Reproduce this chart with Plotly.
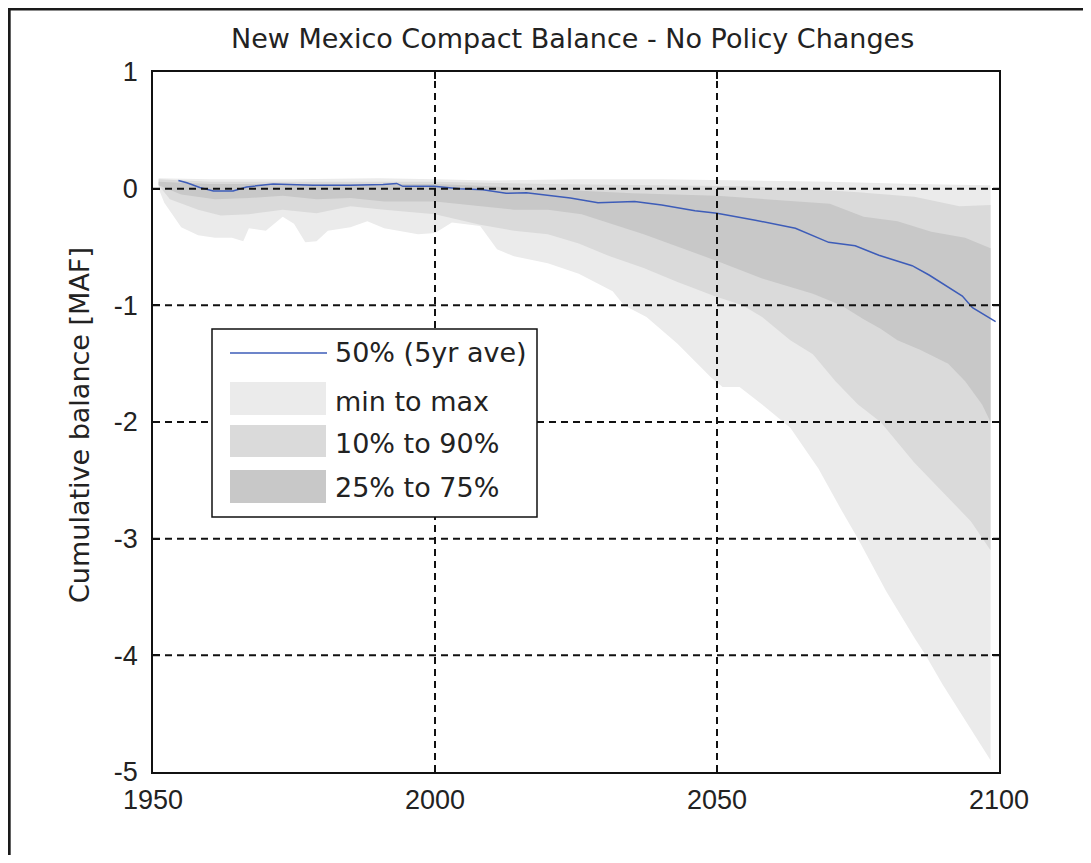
import plotly.graph_objects as go

# band edges (MAF), each edge with its own years
MAX_YEARS = [1951, 1960, 1975, 1990, 2000, 2010, 2025, 2040, 2055, 2070, 2085, 2098.5]
MAX_VALS = [0.09, 0.08, 0.08, 0.09, 0.08, 0.07, 0.08, 0.08, 0.07, 0.06, 0.04, 0.03]

P90_YEARS = [1951, 1960, 1980, 2000, 2020, 2040, 2055, 2065, 2075, 2085, 2093, 2098.5]
P90_VALS = [0.08, 0.06, 0.06, 0.06, 0.04, 0.03, 0.02, 0.0, -0.03, -0.07, -0.15, -0.14]

P75_YEARS = [1951, 1960, 1980, 2000, 2010, 2022, 2035, 2050, 2064, 2070, 2076, 2082, 2088, 2094, 2098.5]
P75_VALS = [0.06, 0.04, 0.04, 0.04, 0.02, -0.01, -0.04, -0.06, -0.11, -0.13, -0.24, -0.28, -0.37, -0.42, -0.51]

P25_YEARS = [1951, 1955, 1961, 1967, 1973, 1979, 1985, 1991, 2000, 2008, 2014, 2020, 2026, 2037,
             2050, 2058, 2067, 2072, 2076, 2079, 2082, 2086, 2091, 2094, 2097, 2098.5]
P25_VALS = [0.03, -0.05, -0.09, -0.08, -0.06, -0.09, -0.08, -0.11, -0.11, -0.15, -0.18, -0.18, -0.22, -0.39,
            -0.62, -0.77, -0.9, -1.0, -1.12, -1.2, -1.3, -1.38, -1.5, -1.65, -1.85, -2.0]

P10_YEARS = [1951, 1953, 1958, 1962, 1967, 1973, 1979, 1985, 1991, 2000, 2008, 2014, 2020, 2025.5,
             2031, 2037, 2043, 2049.5, 2054.5, 2058, 2063, 2067, 2071, 2075, 2079, 2085, 2090, 2095, 2098.5]
P10_VALS = [0.03, -0.09, -0.18, -0.23, -0.22, -0.18, -0.21, -0.15, -0.18, -0.22, -0.31, -0.36, -0.39, -0.47,
            -0.58, -0.68, -0.8, -0.92, -1.0, -1.1, -1.3, -1.42, -1.65, -1.85, -2.0, -2.35, -2.6, -2.85, -3.1]

MIN_YEARS = [1951, 1952, 1955, 1958, 1961, 1964, 1966, 1967, 1970, 1973, 1975, 1977, 1979, 1981, 1985,
             1988, 1991, 1997, 2000, 2003, 2008, 2011, 2014, 2020, 2025.5, 2031.5, 2033.5, 2037.5, 2043,
             2049, 2051, 2054, 2058, 2063, 2068, 2072, 2075, 2080, 2085, 2087, 2090, 2094, 2098.5]
MIN_VALS = [0.0, -0.12, -0.33, -0.4, -0.42, -0.42, -0.45, -0.34, -0.36, -0.24, -0.3, -0.46, -0.45, -0.36, -0.33,
            -0.28, -0.34, -0.39, -0.38, -0.29, -0.32, -0.52, -0.58, -0.64, -0.73, -0.88, -1.0, -1.1, -1.33,
            -1.62, -1.7, -1.7, -1.85, -2.05, -2.4, -2.75, -3.0, -3.45, -3.85, -4.0, -4.25, -4.55, -4.9]

MED_YEARS = [1954.5, 1956, 1958.3, 1960.7, 1964.2, 1966.6, 1971.3, 1978.4, 1985, 1990.8, 1993.2, 1994.3,
             1999.8, 2004.4, 2008.5, 2012.6, 2016.2, 2020.3, 2024, 2028.9, 2035.4, 2040.2, 2046.1, 2050,
             2056.8, 2063.9, 2069.8, 2074.5, 2078.7, 2084.6, 2087.6, 2093.5, 2095.3, 2099.4]
MED_VALS = [0.07, 0.05, 0.01, -0.02, -0.02, 0.015, 0.04, 0.03, 0.03, 0.035, 0.045, 0.02,
            0.02, 0.0, -0.01, -0.04, -0.035, -0.06, -0.08, -0.12, -0.11, -0.14, -0.19, -0.21,
            -0.27, -0.34, -0.46, -0.49, -0.57, -0.66, -0.74, -0.92, -1.02, -1.14]

X_TICKS = [1950, 2000, 2050, 2100]
Y_TICKS = [1, 0, -1, -2, -3, -4, -5]
Y_TICK_TEXT = ["1", "0", "-1", "-2", "-3", "-4", "-5"]

LEGEND_LABELS = ["50% (5yr ave)", "min to max", "10% to 90%", "25% to 75%"]
C_LIGHT, C_MID, C_DARK, C_LINE = "#ebebeb", "#dadada", "#c8c8c8", "#3d5cb8"
TICK_FONT = "Liberation Sans, Arial, sans-serif"
TEXT_FONT = "DejaVu Sans, Verdana, sans-serif"


def band(xu, yu, xl, yl, color):
    return go.Scatter(x=list(xu) + list(xl)[::-1], y=list(yu) + list(yl)[::-1],
                      fill="toself", fillcolor=color, mode="lines",
                      line=dict(width=0, color=color), hoverinfo="skip", showlegend=False)


fig = go.Figure()
fig.add_trace(band(MAX_YEARS, MAX_VALS, MIN_YEARS, MIN_VALS, C_LIGHT))
fig.add_trace(band(P90_YEARS, P90_VALS, P10_YEARS, P10_VALS, C_MID))
fig.add_trace(band(P75_YEARS, P75_VALS, P25_YEARS, P25_VALS, C_DARK))
fig.add_trace(go.Scatter(x=MED_YEARS, y=MED_VALS, mode="lines",
                         line=dict(color=C_LINE, width=1.5), showlegend=False))

shapes = []
# dashed grid drawn above the bands, like the matlab original
for gx in X_TICKS[1:-1]:
    shapes.append(dict(type="line", xref="x", yref="paper", x0=gx, x1=gx, y0=0, y1=1,
                       line=dict(color="#111", width=2, dash="7px,5px"), layer="above"))
for gy in Y_TICKS[1:-1]:
    shapes.append(dict(type="line", xref="paper", yref="y", x0=0, x1=1, y0=gy, y1=gy,
                       line=dict(color="#111", width=2, dash="7px,5px"), layer="above"))

# figure frame (left/top edges visible)
shapes.append(dict(type="rect", xref="paper", yref="paper", x0=-0.170, x1=1.2, y0=-0.2, y1=1.090,
                   line=dict(color="#1a1a1a", width=3), fillcolor="rgba(0,0,0,0)", layer="above"))


# hand-built legend box, matlab style
def px(sx):
    return (sx - 153) / 846


def py(sy):
    return (772 - sy) / 700


shapes.append(dict(type="rect", xref="paper", yref="paper", x0=px(212), x1=px(537), y0=py(517), y1=py(329),
                   line=dict(color="#111", width=1.5), fillcolor="white", layer="above"))
shapes.append(dict(type="line", xref="paper", yref="paper", x0=px(230), x1=px(327), y0=py(353), y1=py(353),
                   line=dict(color=C_LINE, width=1.5), layer="above"))
for (top, bot), col in zip([(382, 415), (425, 457), (470, 503)], [C_LIGHT, C_MID, C_DARK]):
    shapes.append(dict(type="rect", xref="paper", yref="paper", x0=px(230), x1=px(326), y0=py(bot), y1=py(top),
                       line=dict(width=0), fillcolor=col, layer="above"))

annotations = []
for lab, sy in zip(LEGEND_LABELS, [352, 401, 443, 487]):
    annotations.append(dict(text=lab, xref="paper", yref="paper", x=px(333), y=py(sy),
                            xanchor="left", yanchor="middle", showarrow=False,
                            font=dict(family=TEXT_FONT, size=27, color="#222")))

annotations.append(dict(text="New Mexico Compact Balance - No Policy Changes", xref="paper", yref="paper",
                        x=px(572), y=py(38), xanchor="center", yanchor="middle", showarrow=False,
                        font=dict(family=TEXT_FONT, size=27, color="#222")))
annotations.append(dict(text="Cumulative balance [MAF]", xref="paper", yref="paper",
                        x=px(80), y=py(425), xanchor="center", yanchor="middle", textangle=-90,
                        showarrow=False, font=dict(family=TEXT_FONT, size=27, color="#222")))

fig.update_layout(
    width=1075, height=847,
    margin=dict(l=145, r=84, t=64, b=83),
    paper_bgcolor="white", plot_bgcolor="white",
    shapes=shapes, annotations=annotations, showlegend=False,
    font=dict(family=TICK_FONT, size=27, color="#222"),
)
fig.update_xaxes(range=[1950, 2100], tickvals=X_TICKS, showgrid=False, zeroline=False,
                 showline=True, linecolor="#111", linewidth=1.5, mirror="ticks",
                 ticks="inside", ticklen=7, tickcolor="#111", tickwidth=1.5, ticklabelstandoff=3)
fig.update_yaxes(range=[-5, 1], tickvals=Y_TICKS, ticktext=Y_TICK_TEXT, showgrid=False, zeroline=False,
                 showline=True, linecolor="#111", linewidth=1.5, mirror="ticks",
                 ticks="inside", ticklen=7, tickcolor="#111", tickwidth=1.5, ticklabelstandoff=8)

fig.write_html("out.html")
